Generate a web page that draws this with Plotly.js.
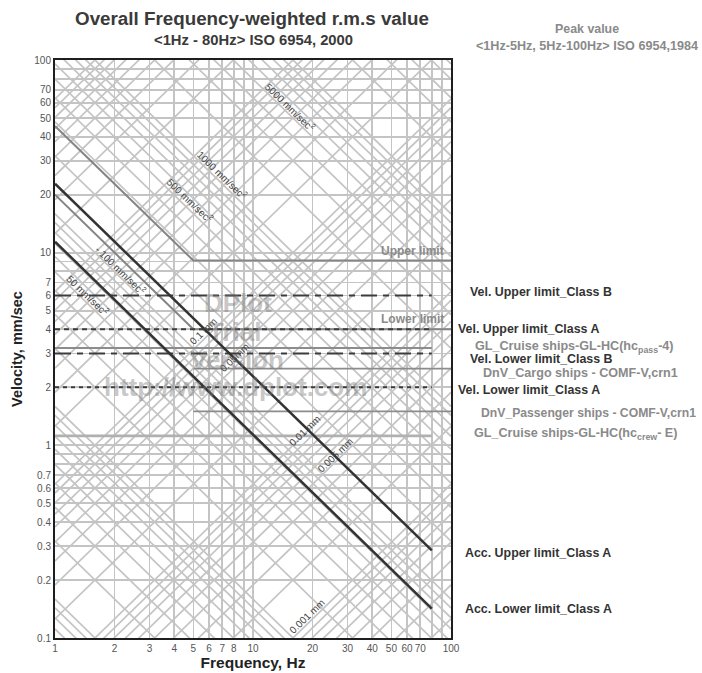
<!DOCTYPE html>
<html><head><meta charset="utf-8">
<script src="https://cdn.plot.ly/plotly-3.0.1.min.js"></script>
<style>html,body{margin:0;padding:0;background:#fff}#chart{width:702px;height:673px}</style>
</head><body><div id="chart"></div>
<script>
// ---------- axis ticks ----------
const xTickVals = [1,2,3,4,5,6,7,8,10,20,30,40,50,60,70,100];
const xTickText = ['1','2','3','4','5','6','7','8','10','20','30','40','50','60','70','100'];
const xExtraGrid = [9,80,90];
const yTickVals = [0.1,0.2,0.3,0.4,0.5,0.6,0.7,1,2,3,4,5,6,7,10,20,30,40,50,60,70,100];
const yTickText = ['0.1','0.2','0.3','0.4','0.5','0.6','0.7','1','2','3','4','5','6','7','10','20','30','40','50','60','70','100'];
const yExtraGrid = [0.8,0.9,8,9,80,90];

// ---------- ISO 6954:2000 (r.m.s.) class limits ----------
const classFreq = [1, 80];
const velUpperB = [6, 6];
const velUpperA = [4, 4];
const velLowerB = [3, 3];
const velLowerA = [2, 2];
const accUpperA = [22.8, 0.285];
const accLowerA = [11.4, 0.142];

// ---------- ISO 6954:1984 (peak) limits ----------
const peakFreq = [1, 5, 100];
const peakUpper = [45.4, 9.1, 9.1];
const peakLower = [20, 4, 4];

// ---------- ship criteria ----------
const glPassFreq = [1, 80];   const glPass = [3.2, 3.2];
const dnvCargoFreq = [5, 100]; const dnvCargo = [2.5, 2.5];
const dnvPassFreq = [5, 100];  const dnvPass = [1.5, 1.5];
const glCrewFreq = [1, 80];   const glCrew = [1.12, 1.12];

// ---------- diagonal reference grid (acceleration mm/s², displacement mm) ----------
const gridMult = [1,2,3,4,5,6,7,8,9];
const accDecades = [-1,0,1,2,3,4];
const dispDecades = [-4,-3,-2,-1,0,1];

// diagonal labels
const accLabelText = ['5000 mm/sec<sup>2</sup>','1000 mm/sec<sup>2</sup>','500 mm/sec<sup>2</sup>','- 100 mm/sec<sup>2</sup>','50 mm/sec<sup>2</sup>'];
const accLabelF = [15.4, 7.0, 4.8, 2.14, 1.46];
const accLabelV = [57, 25.3, 18.8, 8.1, 6.0];
const dispLabelText = ['0.1 mm','0.05mm','0.01 mm','0.005 mm','0.001 mm'];
const dispLabelF = [5.6, 8.1, 18.3, 25.9, 18.7];
const dispLabelV = [3.88, 2.84, 1.2, 0.89, 0.129];

// ---------- build ----------
const FONT = 'Arial, "Liberation Sans", sans-serif';
const W = 702, H = 673, L = 55, R = 251, T = 60, B = 35;
const PW = W - L - R, PH = H - T - B;
const px = xp => (xp - L) / PW;
const py = yp => (H - B - yp) / PH;

const accX = [], accY = [], dispX = [], dispY = [];
accDecades.forEach(k => gridMult.forEach(m => {
  const a = m * Math.pow(10, k);
  accX.push(1, 100, null); accY.push(a / (2 * Math.PI), a / (200 * Math.PI), null);
}));
dispDecades.forEach(k => gridMult.forEach(m => {
  const d = m * Math.pow(10, k);
  dispX.push(1, 100, null); dispY.push(2 * Math.PI * d, 200 * Math.PI * d, null);
}));

const GRID = '#c4c4c4';
function line(x, y, color, width, dash) {
  return {type: 'scatter', mode: 'lines', x: x, y: y, hoverinfo: 'skip', showlegend: false,
    line: {color: color, width: width, dash: dash || 'solid'}};
}
const traces = [
  line(accX, accY, GRID, 1.7),
  line(dispX, dispY, GRID, 1.7),
  line(glCrewFreq, glCrew, '#b0b0b0', 2.6),
  line(peakFreq, peakUpper, '#858585', 2),
  line(peakFreq, peakLower, '#858585', 2),
  line(glPassFreq, glPass, '#8c8c8c', 1.8),
  line(dnvCargoFreq, dnvCargo, '#8c8c8c', 1.8),
  line(dnvPassFreq, dnvPass, '#8c8c8c', 1.8),
  line(classFreq, velUpperB, '#3c3c3c', 2, '16px,6px,6px,6px'),
  line(classFreq, velLowerB, '#3c3c3c', 2, '16px,6px,6px,6px'),
  line(classFreq, velUpperA, '#3c3c3c', 2, '5px,4px'),
  line(classFreq, velLowerA, '#3c3c3c', 2, '4px,4px'),
  line(classFreq, accUpperA, '#333333', 2.5),
  line(classFreq, accLowerA, '#333333', 2.5)
];

const ann = [];
// subtitle and peak headings
ann.push({xref:'paper', yref:'paper', x:px(253), y:py(40), text:'<b>&lt;1Hz - 80Hz&gt; ISO 6954, 2000</b>', showarrow:false, font:{family:FONT, size:14.8, color:'#3a3a3a'}, xanchor:'center', yanchor:'middle'});
ann.push({xref:'paper', yref:'paper', x:px(587), y:py(29), text:'<b>Peak value</b>', showarrow:false, font:{family:FONT, size:12.4, color:'#8a8a8a'}, xanchor:'center', yanchor:'middle'});
ann.push({xref:'paper', yref:'paper', x:px(587), y:py(46), text:'<b>&lt;1Hz-5Hz, 5Hz-100Hz&gt; ISO 6954,1984</b>', showarrow:false, font:{family:FONT, size:12.6, color:'#8a8a8a'}, xanchor:'center', yanchor:'middle'});
// in-plot limit labels
ann.push({xref:'paper', yref:'paper', x:px(446), y:py(251), text:'<b>Upper limit</b>', showarrow:false, font:{family:FONT, size:12, color:'#8a8a8a'}, xanchor:'right', yanchor:'middle'});
ann.push({xref:'paper', yref:'paper', x:px(446), y:py(319), text:'<b>Lower limit</b>', showarrow:false, font:{family:FONT, size:12, color:'#8a8a8a'}, xanchor:'right', yanchor:'middle'});
// right-side labels
const rightLabels = [
  ['<b>Vel. Upper limit_Class B</b>', 468, 292, '#333333', 12.4],
  ['<b>Vel. Upper limit_Class A</b>', 456, 329, '#333333', 12.4],
  ['<b>GL_Cruise ships-GL-HC(hc<sub>pass</sub>-4)</b>', 473, 347, '#8a8a8a', 12.6],
  ['<b>Vel. Lower limit_Class B</b>', 468, 359, '#333333', 12.4],
  ['<b>DnV_Cargo ships - COMF-V,crn1</b>', 481, 373, '#8a8a8a', 12.6],
  ['<b>Vel. Lower limit_Class A</b>', 456, 390, '#333333', 12.4],
  ['<b>DnV_Passenger ships - COMF-V,crn1</b>', 479, 413, '#8a8a8a', 12.2],
  ['<b>GL_Cruise ships-GL-HC(hc<sub>crew</sub>- E)</b>', 472, 434, '#8a8a8a', 12.6],
  ['<b>Acc. Upper limit_Class A</b>', 463, 553, '#333333', 12.4],
  ['<b>Acc. Lower limit_Class A</b>', 463, 609, '#333333', 12.4]
];
rightLabels.forEach(r => ann.push({xref:'paper', yref:'paper', x:px(r[1]), y:py(r[2]), text:r[0], showarrow:false,
  font:{family:FONT, size:r[4], color:r[3]}, xanchor:'left', yanchor:'middle'}));
// diagonal labels (log axes -> log10 coordinates)
accLabelText.forEach((t, i) => ann.push({xref:'x', yref:'y', x:Math.log10(accLabelF[i]), y:Math.log10(accLabelV[i]), text:t, showarrow:false,
  textangle:44, font:{family:FONT, size:10, color:'#444'}, xanchor:'center', yanchor:'middle'}));
dispLabelText.forEach((t, i) => ann.push({xref:'x', yref:'y', x:Math.log10(dispLabelF[i]), y:Math.log10(dispLabelV[i]), text:t, showarrow:false,
  textangle:-44, font:{family:FONT, size:10, color:'#444'}, xanchor:'center', yanchor:'middle'}));
// watermark
const wm = [['DPlot', 238, 303], ['Trial', 234, 332], ['Version', 237, 360], ['http://www.dplot.com', 235, 387]];
wm.forEach(w => ann.push({xref:'paper', yref:'paper', x:px(w[1]), y:py(w[2]), text:'<b>' + w[0] + '</b>', showarrow:false,
  font:{family:FONT, size:26, color:'rgba(120,120,120,0.42)'}, xanchor:'center', yanchor:'middle'}));

const layout = {
  width: W, height: H,
  margin: {l: L, r: R, t: T, b: B, pad: 0},
  paper_bgcolor: '#fff', plot_bgcolor: '#fff',
  showlegend: false,
  title: {text: '<b>Overall Frequency-weighted r.m.s value</b>', x: 252 / W, y: 1 - 18 / H, xref: 'container', yref: 'container',
    xanchor: 'center', yanchor: 'middle', font: {family: FONT, size: 18.8, color: '#3a3a3a'}},
  xaxis: {type: 'log', range: [0, 2], tickmode: 'array', tickvals: xTickVals, ticktext: xTickText, ticks: '', tickangle: 0,
    showgrid: true, gridcolor: GRID, gridwidth: 1.7, zeroline: false,
    minor: {tickmode: 'array', tickvals: xExtraGrid, showgrid: true, gridcolor: GRID, gridwidth: 1.7, ticks: ''},
    showline: true, mirror: true, linecolor: '#1e1e1e', linewidth: 2,
    tickfont: {family: FONT, size: 10, color: '#555'},
    title: {text: '<b>Frequency, Hz</b>', font: {family: FONT, size: 15.5, color: '#222'}, standoff: 2}},
  yaxis: {type: 'log', range: [-1, 2], tickmode: 'array', tickvals: yTickVals, ticktext: yTickText, ticks: '',
    showgrid: true, gridcolor: GRID, gridwidth: 1.7, zeroline: false,
    minor: {tickmode: 'array', tickvals: yExtraGrid, showgrid: true, gridcolor: GRID, gridwidth: 1.7, ticks: ''},
    showline: true, mirror: true, linecolor: '#1e1e1e', linewidth: 2,
    tickfont: {family: FONT, size: 10, color: '#555'},
    title: {text: '<b>Velocity, mm/sec</b>', font: {family: FONT, size: 14.5, color: '#222'}, standoff: 8}},
  annotations: ann
};
Plotly.newPlot('chart', traces, layout, {displayModeBar: false, staticPlot: true});
</script>
</body></html>
